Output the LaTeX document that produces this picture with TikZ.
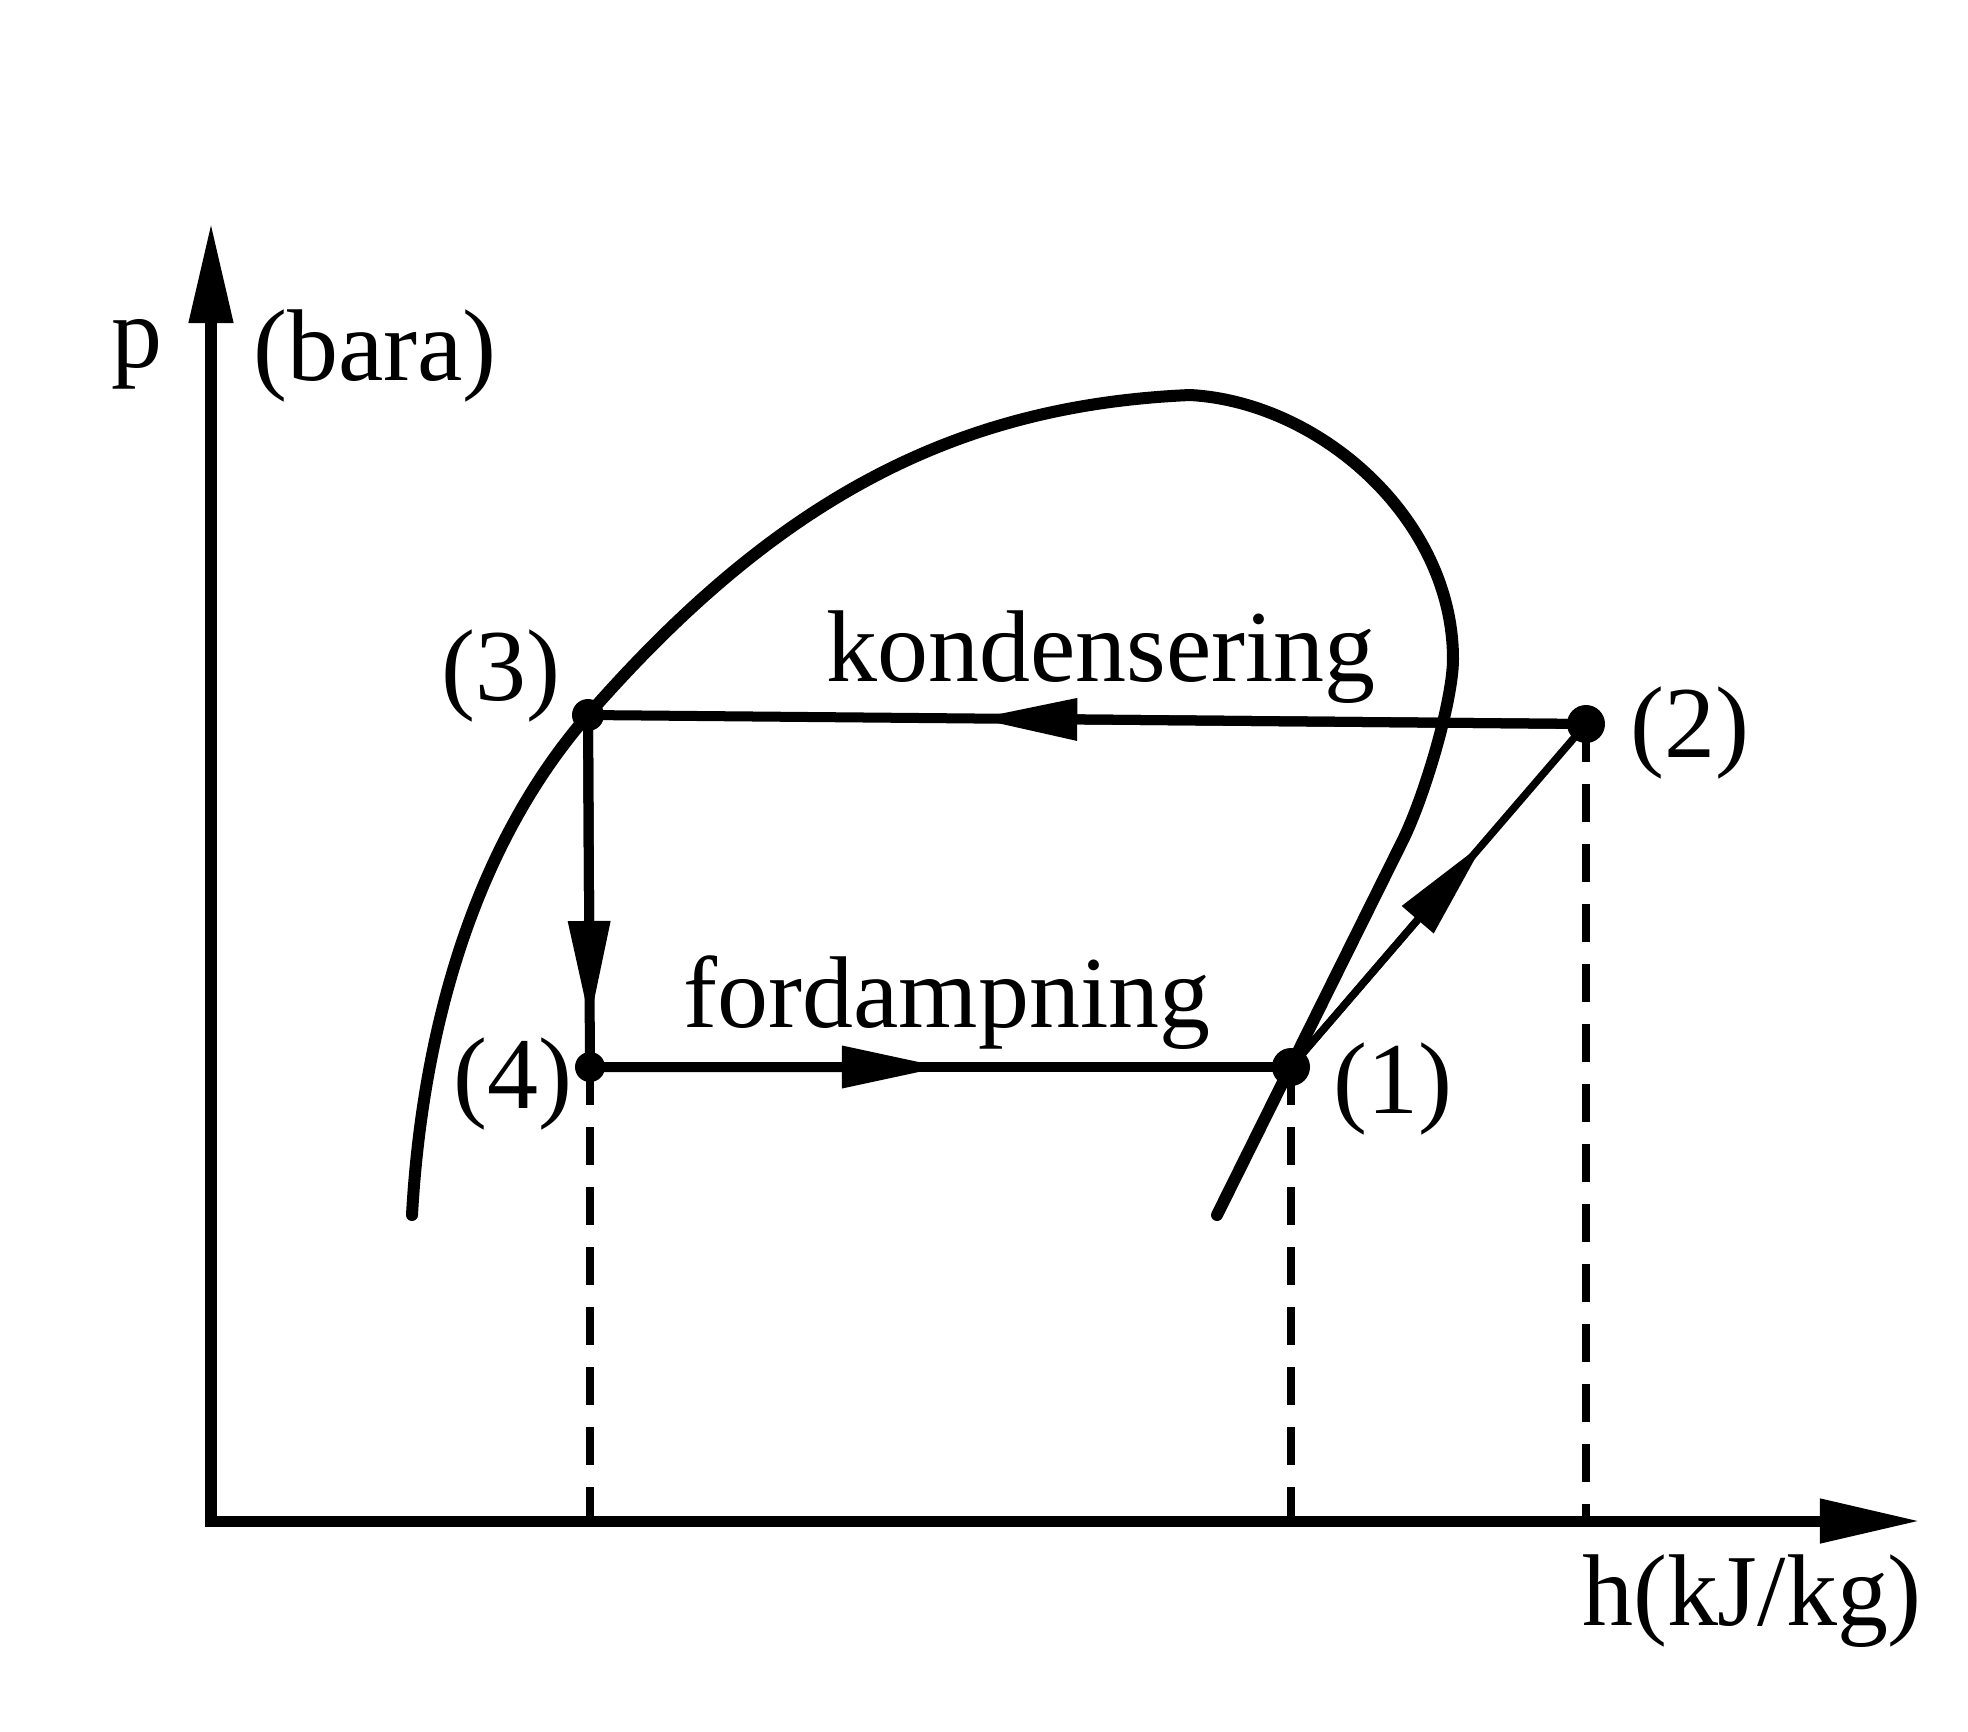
\documentclass[tikz,border=0pt]{standalone}
\usepackage{fontspec}
\setmainfont{Liberation Serif}
\usetikzlibrary{arrows.meta,calc}
\begin{document}
\begin{tikzpicture}[x=0.01cm,y=-0.01cm,
  axis/.style={line width=0.11cm,{Triangle[length=1cm,width=0.42cm]}-{Triangle[length=1cm,width=0.42cm]}},
  cyc/.style={line width=0.1cm},
  thin cyc/.style={line width=0.075cm},
  midtip/.style={-{Triangle[length=1.02cm,width=0.4cm]}},
  sat/.style={line width=0.12cm,line cap=round,line join=round},
  guide/.style={line width=0.08cm,dash pattern=on 0.38cm off 0.22cm},
  lbl/.style={font=\fontsize{29}{35}\selectfont,anchor=base,inner sep=0pt},
]
\useasboundingbox (0,0) rectangle (1968,1732);
% axes
\coordinate (O) at (211,1521);
\coordinate (ytip) at (211,223);
\coordinate (xtip) at (1920,1521);
\draw[axis] (ytip) -- (O) -- (xtip);
% state points
\coordinate (p3) at (588,715);
\coordinate (p2) at (1586,724);
\coordinate (p4) at (590,1067);
\coordinate (p1) at (1291,1067);
\coordinate (b4) at (590,1521);
\coordinate (b1) at (1291,1521);
\coordinate (b2) at (1586,1521);
% saturation curve
\coordinate (sStart) at (412,1215);
\coordinate (sTop) at (1190,395);
\coordinate (sRight) at (1453,659);
\coordinate (sBend) at (1403,840);
\coordinate (sEnd) at (1217,1215);
\draw[sat] (sStart) .. controls (422,1035) and (472,848) .. (p3)
  .. controls (780,495) and (960,405) .. (sTop)
  .. controls (1320,402) and (1453,519) .. (sRight)
  .. controls (1453,700) and (1425,795) .. (sBend) -- (sEnd);
% guides
\draw[guide] (p4) -- (b4);
\draw[guide] (p1) -- (b1);
\draw[guide] (p2) -- (b2);
% cycle
\draw[cyc] (p2) -- (p3);
\draw[cyc,midtip] (p2) -- ($(p2)!0.612!(p3)$);
\draw[cyc] (p3) -- (p4);
\draw[cyc,midtip] (p3) -- ($(p3)!0.875!(p4)$);
\draw[cyc] (p4) -- (p1);
\draw[cyc,midtip] (p4) -- ($(p4)!0.505!(p1)$);
\draw[thin cyc] (p1) -- (p2);
\draw[thin cyc,midtip] (p1) -- ($(p1)!0.655!(p2)$);
\fill (p3) circle (16);
\fill (p4) circle (15);
\fill (p1) circle (19);
\fill (p2) circle (19);
% labels
\node[lbl] (l3) at (501,700) {(3)};
\node[lbl] (l4) at (513,1108) {(4)};
\node[lbl] (l1) at (1393,1113) {(1)};
\node[lbl] (l2) at (1690,757) {(2)};
\node[lbl] (lk) at (1101,681) {kondensering};
\node[lbl] (lf) at (947,1027) {fordampning};
\node[lbl] (lp) at (137,367) {p};
\node[lbl] (lb) at (375,380) {(bara)};
\node[lbl] (lh) at (1752,1625) {h(kJ/kg)};
\end{tikzpicture}
\end{document}
